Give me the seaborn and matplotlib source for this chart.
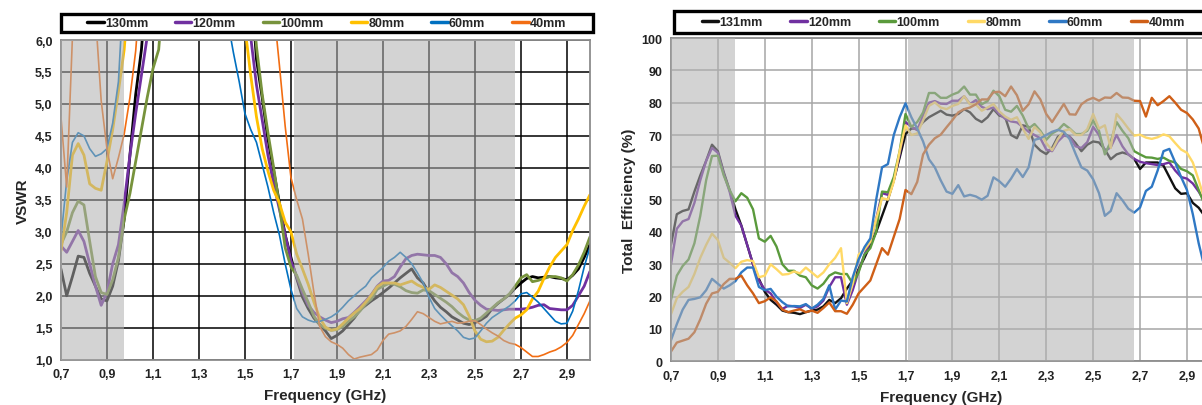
import numpy as np
import pandas as pd
import matplotlib.pyplot as plt
import seaborn as sns
from matplotlib.patches import Rectangle

# frequency axis shared by both panels (GHz)
freq = np.round(np.arange(0.7, 3.0001, 0.025), 3)

labels_vswr = ['130mm', '120mm', '100mm', '80mm', '60mm', '40mm']
labels_eff = ['131mm', '120mm', '100mm', '80mm', '60mm', '40mm']

xtick_vals = [0.7, 0.9, 1.1, 1.3, 1.5, 1.7, 1.9, 2.1, 2.3, 2.5, 2.7, 2.9]
xtick_labels = ['0,7', '0,9', '1,1', '1,3', '1,5', '1,7', '1,9', '2,1', '2,3', '2,5', '2,7', '2,9']
vswr_ticks = [1.0, 1.5, 2.0, 2.5, 3.0, 3.5, 4.0, 4.5, 5.0, 5.5, 6.0]
vswr_tick_labels = ['1,0', '1,5', '2,0', '2,5', '3,0', '3,5', '4,0', '4,5', '5,0', '5,5', '6,0']
eff_ticks = [0, 10, 20, 30, 40, 50, 60, 70, 80, 90, 100]

# shaded bands (GHz)
bands = [(0.7, 0.975), (1.712, 2.675)]

# VSWR (7.0 = above the 6,0 top of the chart)
vswr_130 = [2.42, 2.00, 2.30, 2.62, 2.60, 2.35, 2.15, 1.95, 1.92, 2.15, 2.55, 3.20, 4.20, 5.15, 5.85,
            7.0, 7.0, 7.0, 7.0, 7.0, 7.0, 7.0, 7.0, 7.0, 7.0, 7.0, 7.0, 7.0, 7.0, 7.0, 7.0, 7.0, 7.0, 7.0,
            5.7, 5.1, 4.45, 3.95, 3.45, 2.95, 2.6, 2.27, 1.98, 1.8,
            1.65, 1.55, 1.45, 1.33, 1.38, 1.45, 1.55, 1.65, 1.78, 1.85,
            1.92, 1.98, 2.05, 2.12, 2.2, 2.28, 2.35, 2.42, 2.28, 2.2,
            2.05, 1.92, 1.82, 1.75, 1.67, 1.62, 1.57, 1.55, 1.58, 1.62,
            1.68, 1.8, 1.88, 1.95, 2.02, 2.12, 2.2, 2.27, 2.3, 2.28,
            2.29, 2.3, 2.28, 2.27, 2.25, 2.32, 2.42, 2.6, 2.8]
vswr_120 = [2.78, 2.68, 2.85, 3.02, 2.85, 2.50, 2.15, 1.85, 2.05, 2.50, 2.80, 3.45, 4.20, 4.85, 5.45, 6.05,
            7.0, 7.0, 7.0, 7.0, 7.0, 7.0, 7.0, 7.0, 7.0, 7.0, 7.0, 7.0, 7.0, 7.0, 7.0, 7.0, 7.0,
            6.05, 5.3, 4.75, 4.2, 3.75, 3.35, 2.95, 2.55, 2.3, 2.05,
            1.85, 1.74, 1.67, 1.62, 1.58, 1.6, 1.64, 1.66, 1.74, 1.83,
            1.92, 2.02, 2.15, 2.23, 2.24, 2.3, 2.45, 2.58, 2.63, 2.65,
            2.64, 2.63, 2.63, 2.6, 2.5, 2.36, 2.3, 2.2, 2.05, 1.93,
            1.85, 1.79, 1.78, 1.77, 1.78, 1.79, 1.79, 1.79, 1.8, 1.82,
            1.85, 1.86, 1.8, 1.79, 1.78, 1.78, 1.85, 2.0, 2.15, 2.38]
vswr_100 = [2.80, 3.00, 3.30, 3.48, 3.42, 2.85, 2.30, 2.05, 2.02, 2.25, 2.60, 3.20, 3.60, 4.10, 4.60, 5.10, 5.55, 5.85,
            7.0, 7.0, 7.0, 7.0, 7.0, 7.0, 7.0, 7.0, 7.0, 7.0, 7.0, 7.0, 7.0, 7.0, 7.0, 7.0,
            5.9, 5.15, 4.55, 4.0, 3.4, 2.75, 2.45, 2.32, 2.1, 1.9,
            1.68, 1.55, 1.49, 1.46, 1.47, 1.52, 1.6, 1.67, 1.76, 1.87,
            1.95, 2.1, 2.15, 2.19, 2.18, 2.14, 2.08, 2.05, 2.04, 2.09,
            2.08, 2.02, 1.96, 1.9, 1.83, 1.74, 1.67, 1.62, 1.61, 1.65,
            1.73, 1.81, 1.89, 1.95, 2.03, 2.15, 2.28, 2.33, 2.22, 2.24,
            2.27, 2.3, 2.3, 2.28, 2.23, 2.33, 2.48, 2.68, 2.92]
vswr_80 = [2.70, 3.30, 4.20, 4.38, 4.20, 3.75, 3.68, 3.65, 4.10, 4.60, 5.20, 5.85,
           7.0, 7.0, 7.0, 7.0, 7.0, 7.0, 7.0, 7.0, 7.0, 7.0, 7.0, 7.0, 7.0, 7.0, 7.0, 7.0, 7.0, 7.0, 7.0, 7.0,
           6.2, 5.45, 4.8, 4.3, 3.95, 3.65, 3.45, 3.15, 3.0, 2.65,
           2.42, 2.18, 1.9, 1.65, 1.51, 1.46, 1.48, 1.56, 1.65, 1.73,
           1.8, 1.9, 2.01, 2.14, 2.2, 2.2, 2.2, 2.17, 2.2, 2.23,
           2.17, 2.13, 2.1, 2.17, 2.13, 2.07, 2.01, 1.95, 1.86, 1.68,
           1.45, 1.32, 1.28, 1.29, 1.35, 1.46, 1.56, 1.65, 1.7, 1.78,
           1.95, 2.07, 2.27, 2.45, 2.6, 2.7, 2.8, 3.02, 3.2, 3.4, 3.58]
vswr_60 = [2.90, 3.80, 4.40, 4.55, 4.50, 4.30, 4.18, 4.22, 4.30, 4.70, 5.35,
           7.0, 7.0, 7.0, 7.0, 7.0, 7.0, 7.0, 7.0, 7.0, 7.0, 7.0, 7.0, 7.0, 7.0, 7.0, 7.0, 7.0, 7.0,
           6.3, 5.8, 5.35, 4.85, 4.6, 4.4, 4.05, 3.7, 3.3, 2.95,
           2.5, 2.1, 1.8, 1.67, 1.62, 1.59, 1.6, 1.63, 1.67, 1.73,
           1.82, 1.92, 2.0, 2.08, 2.15, 2.28, 2.36, 2.44, 2.54, 2.6,
           2.68, 2.6, 2.5, 2.36, 2.2, 1.98, 1.8, 1.7, 1.61, 1.53,
           1.45, 1.35, 1.32, 1.34, 1.45, 1.57, 1.66, 1.72, 1.78, 1.84,
           1.92, 2.03, 2.05, 1.98, 1.9, 1.8, 1.7, 1.6, 1.56, 1.57,
           1.76, 2.08, 2.45, 2.76]
vswr_40 = [4.80, 3.70, 6.05, 7.0, 7.0, 7.0, 6.40, 5.05, 4.30, 3.83, 4.16, 4.53, 5.10, 5.83,
           7.0, 7.0, 7.0, 7.0, 7.0, 7.0, 7.0, 7.0, 7.0, 7.0, 7.0, 7.0, 7.0, 7.0, 7.0, 7.0, 7.0, 7.0, 7.0,
           7.0, 7.0, 7.0, 7.0,
           6.5, 5.6, 4.65, 3.85, 3.5, 3.2, 2.65, 2.05, 1.52, 1.36,
           1.28, 1.24, 1.18, 1.08, 1.01, 1.04, 1.06, 1.08, 1.15, 1.3,
           1.4, 1.42, 1.45, 1.52, 1.63, 1.75, 1.72, 1.66, 1.6, 1.56,
           1.58, 1.6, 1.57, 1.58, 1.6, 1.61, 1.55, 1.48, 1.42, 1.37,
           1.3, 1.26, 1.24, 1.19, 1.12, 1.05, 1.05, 1.08, 1.12, 1.15,
           1.2, 1.27, 1.38, 1.55, 1.72, 1.92]

# Total efficiency (%)
eff_131 = [36, 45.5, 46.5, 47, 52.5, 57.5, 62, 67, 65, 58.5,
           53, 47, 42, 36, 30, 25.5, 21.5, 19, 17.5, 15.7,
           15.2, 15, 14.6, 15.2, 15.7, 16, 17, 19, 18, 19.5, 22.5,
           25, 28.5, 32, 36, 40, 45, 50, 56, 63, 70.3,
           72, 72, 74, 75.5, 76.5, 77.5, 76.3, 76, 76.5, 78,
           77, 75, 74, 75.5, 78, 76, 75.5, 70, 69, 73,
           72.5, 67, 65.2, 64.1, 66, 69.5, 70.3, 69.5, 67.5, 65,
           67, 68, 67.7, 65.5, 62.5, 64, 64.6, 64, 62.6, 59.5,
           61.5, 61.5, 61.5, 60.5, 57, 53.5, 51.8, 52, 49, 47.5, 45, 42]
eff_120 = [30, 41, 43.3, 44, 49, 56, 62, 66, 64.5, 58,
           52.5, 45, 42, 36, 30, 25, 22.2, 21, 18.3, 16.2,
           17.2, 17, 16.5, 17.5, 16.3, 17, 18.8, 23, 26, 26, 17.5,
           22, 28, 33, 37, 44, 52, 51.5, 56, 64, 74,
           72.5, 71.5, 76, 80, 80.5, 79.7, 79.6, 80.6, 80.6, 82,
           79.6, 80.8, 78.7, 78, 78.5, 76.5, 75, 74.2, 73.9, 72.5,
           71, 70, 69, 65.5, 65, 68, 69.8, 69.5, 66.5, 66,
           67.8, 72.5, 70, 65, 66.2, 70, 66.5, 64, 62.6, 61.7,
           61.3, 61, 60.7, 61, 61.5, 59, 57, 56.5, 55, 52.5, 49.5, 46]
eff_100 = [19, 26.5, 29.5, 31.5, 36.5, 45, 56, 63.5, 63.6, 57.5,
           53, 49.5, 52, 50.6, 47, 38, 37, 38.8, 35.5, 30,
           28, 28, 26.5, 26, 23.5, 22.5, 24, 26.5, 27.5, 27, 27,
           24, 27.5, 33, 35, 40, 52.5, 52.3, 57, 65, 76.5,
           72.5, 74, 77, 83, 83, 81.5, 81.5, 82.5, 83.2, 85,
           82.5, 82.5, 79.5, 80.5, 83.7, 82, 77.8, 77.2, 79, 76,
           72, 73.4, 71.3, 68.5, 70.5, 71.5, 73.4, 72, 70.3, 70.3,
           71.3, 74.5, 71.3, 64, 68, 74, 71.3, 69, 65, 64,
           63.1, 63, 62.6, 63, 62, 61.5, 59.5, 58.8, 57.5, 53, 48.5, 44]
eff_80 = [14.5, 19.5, 21.5, 23, 27, 32, 36, 39.5, 37.5, 32,
          30.5, 28.8, 30.8, 31.3, 31, 26, 26.5, 30, 28.5, 26.8,
          27, 27.8, 27.2, 29, 27.5, 26, 27.5, 30, 32, 35, 18,
          24, 33, 34.5, 37, 44, 50.5, 50, 55.5, 65, 73,
          70, 70.5, 74.5, 79, 80.1, 78.5, 78, 79, 79.6, 82,
          79.5, 79.5, 77.5, 78.5, 79.6, 77.3, 75.7, 74.7, 75.5, 72,
          68.8, 72.5, 70.8, 67.5, 65.3, 68.8, 71.3, 71.8, 70, 70,
          71.8, 76.5, 72, 73, 66, 76.5, 74.4, 72, 69.8, 70.1,
          69.2, 68.8, 69.3, 70.2, 69.6, 67.5, 65.5, 64.5, 61.5, 56, 50, 45]
eff_60 = [6.5, 11.5, 16, 19, 19.3, 19.8, 22, 25.5, 24, 22.5,
          23.5, 24.8, 27.5, 29, 29, 23, 22, 22.4, 20, 18.3,
          17, 17.1, 17, 17.7, 16.3, 17.5, 19.3, 23.5, 16, 18.8, 18.5,
          26, 31.5, 35.3, 38, 50, 60, 61, 70, 75.5, 79.8,
          75.5, 72, 68, 62.5, 60, 56, 52.5, 51.8, 54.5, 51,
          51.5, 51, 50, 51.2, 56.9, 55.7, 54, 56.5, 59.5, 57,
          60, 68.5, 69, 70, 71, 71.6, 71, 68.7, 64.2, 60,
          59, 56.3, 52, 45, 46.5, 52, 49.8, 47.2, 46, 47.6,
          52.7, 54, 59, 65, 65.7, 61.5, 57, 53, 45.5, 36.5, 29, 22]
eff_40 = [3, 5.8, 6.4, 7, 9, 13, 17.8, 21, 21.5, 23.9,
          25.5, 25.5, 26.5, 23.5, 21, 18, 18.6, 19.8, 18.5, 16,
          15.2, 15.7, 16.1, 15.2, 15.7, 15, 16.5, 18.2, 15.5, 15.5, 14.7,
          17.5, 21, 23, 25, 30, 35, 33, 38.5, 44, 53,
          51.7, 55.5, 64, 67, 69, 70.1, 72.4, 74.6, 77, 78,
          78.5, 79.5, 81, 81, 83.2, 83.4, 82, 85, 82.3, 77.5,
          79.5, 83.5, 81, 76.5, 74, 76.8, 79.6, 76.4, 76.3, 79.5,
          80.8, 81.5, 80.6, 81.6, 81.5, 83, 81.6, 81.5, 80.6, 80.5,
          75.7, 81.5, 79.2, 80.5, 82, 80, 77.8, 76.8, 74.8, 72, 65.5, 60]

vswr_series = [vswr_130, vswr_120, vswr_100, vswr_80, vswr_60, vswr_40]
eff_series = [eff_131, eff_120, eff_100, eff_80, eff_60, eff_40]
for s in vswr_series + eff_series:
    assert len(s) == len(freq), len(s)

vswr_colors = ['#000000', '#7030a0', '#77933c', '#ffc000', '#0070c0', '#f26d12']
vswr_widths = [2.0, 2.0, 2.0, 2.0, 1.2, 1.2]
eff_colors = ['#111111', '#7030a0', '#5a9a3c', '#ffd966', '#2f78c4', '#cf5f17']
eff_widths = [1.7, 1.7, 1.7, 1.7, 1.7, 1.7]

sns.set_style('white')
plt.rcParams['font.family'] = ['Liberation Sans', 'DejaVu Sans']
plt.rcParams['font.weight'] = 'bold'

fig = plt.figure(figsize=(12.02, 4.06), dpi=100)
ax1 = fig.add_axes([0.0507, 0.1116, 0.4401, 0.7874])
ax2 = fig.add_axes([0.5582, 0.1076, 0.4488, 0.7963])


def draw_panel(ax, series, labels, colors, widths, ylabel, grid_color, box, entries):
    df = pd.DataFrame({'Frequency': freq})
    for lab, vals in zip(labels, series):
        df[lab] = vals
    long = df.melt(id_vars='Frequency', var_name='Antenna', value_name='Value')
    for lab, col, lw in zip(labels, colors, widths):
        sns.lineplot(data=long[long['Antenna'] == lab], x='Frequency', y='Value',
                     color=col, lw=lw, label=lab, ax=ax, zorder=2)
    ax.set_xlim(0.7, 3.0)
    ax.set_xticks(xtick_vals)
    ax.set_xticklabels(xtick_labels, fontsize=9, fontweight='bold')
    ax.grid(True, color=grid_color, lw=1.1, zorder=0.5)
    ax.set_axisbelow(True)
    # grey bands drawn over the curves (semi transparent, like the original)
    for a, b in bands:
        ax.axvspan(a, b, color='#b0b0b0', alpha=0.55, lw=0, zorder=3)
    ax.set_xlabel('Frequency (GHz)', fontsize=11, fontweight='bold', labelpad=6)
    ax.set_ylabel(ylabel, fontsize=11, fontweight='bold', labelpad=4)
    for sp in ax.spines.values():
        sp.set_visible(True)
        sp.set_color('#8c8c8c')
        sp.set_linewidth(1.3)
    ax.tick_params(axis='both', length=3, width=1, color='#8c8c8c', pad=3,
                   labelcolor='#222222')
    # legend frame (thick black box above the plot)
    x0, y0, w, h = box
    ax.add_patch(Rectangle((x0, y0), w, h, transform=ax.transAxes, clip_on=False,
                           facecolor='white', edgecolor='black', lw=2.4, zorder=6))
    leg = ax.legend(loc='center', ncol=6, mode='expand', frameon=False,
                    fontsize=9, handlelength=1.3, handletextpad=0.1,
                    borderpad=0.0, bbox_to_anchor=(entries[0], y0, entries[1] - entries[0], h),
                    borderaxespad=0.0)
    leg.set_zorder(7)
    for line in leg.get_lines():
        line.set_linewidth(2.5)
    for t in leg.get_texts():
        t.set_fontweight('bold')


draw_panel(ax1, vswr_series, labels_vswr, vswr_colors, vswr_widths, 'VSWR', 'black',
           (0.0, 1.025, 1.006, 0.056), (0.05, 0.955))
ax1.set_ylim(1.0, 6.0)
ax1.set_yticks(vswr_ticks)
ax1.set_yticklabels(vswr_tick_labels, fontsize=9, fontweight='bold')

draw_panel(ax2, eff_series, labels_eff, eff_colors, eff_widths, 'Total  Efficiency (%)', '#a6a6a6',
           (0.006, 1.016, 1.1, 0.067), (0.057, 0.953))
ax2.set_ylim(0, 100)
ax2.set_yticks(eff_ticks)
ax2.set_yticklabels([str(v) for v in eff_ticks], fontsize=9, fontweight='bold')

fig.savefig('out.png', dpi=100)
